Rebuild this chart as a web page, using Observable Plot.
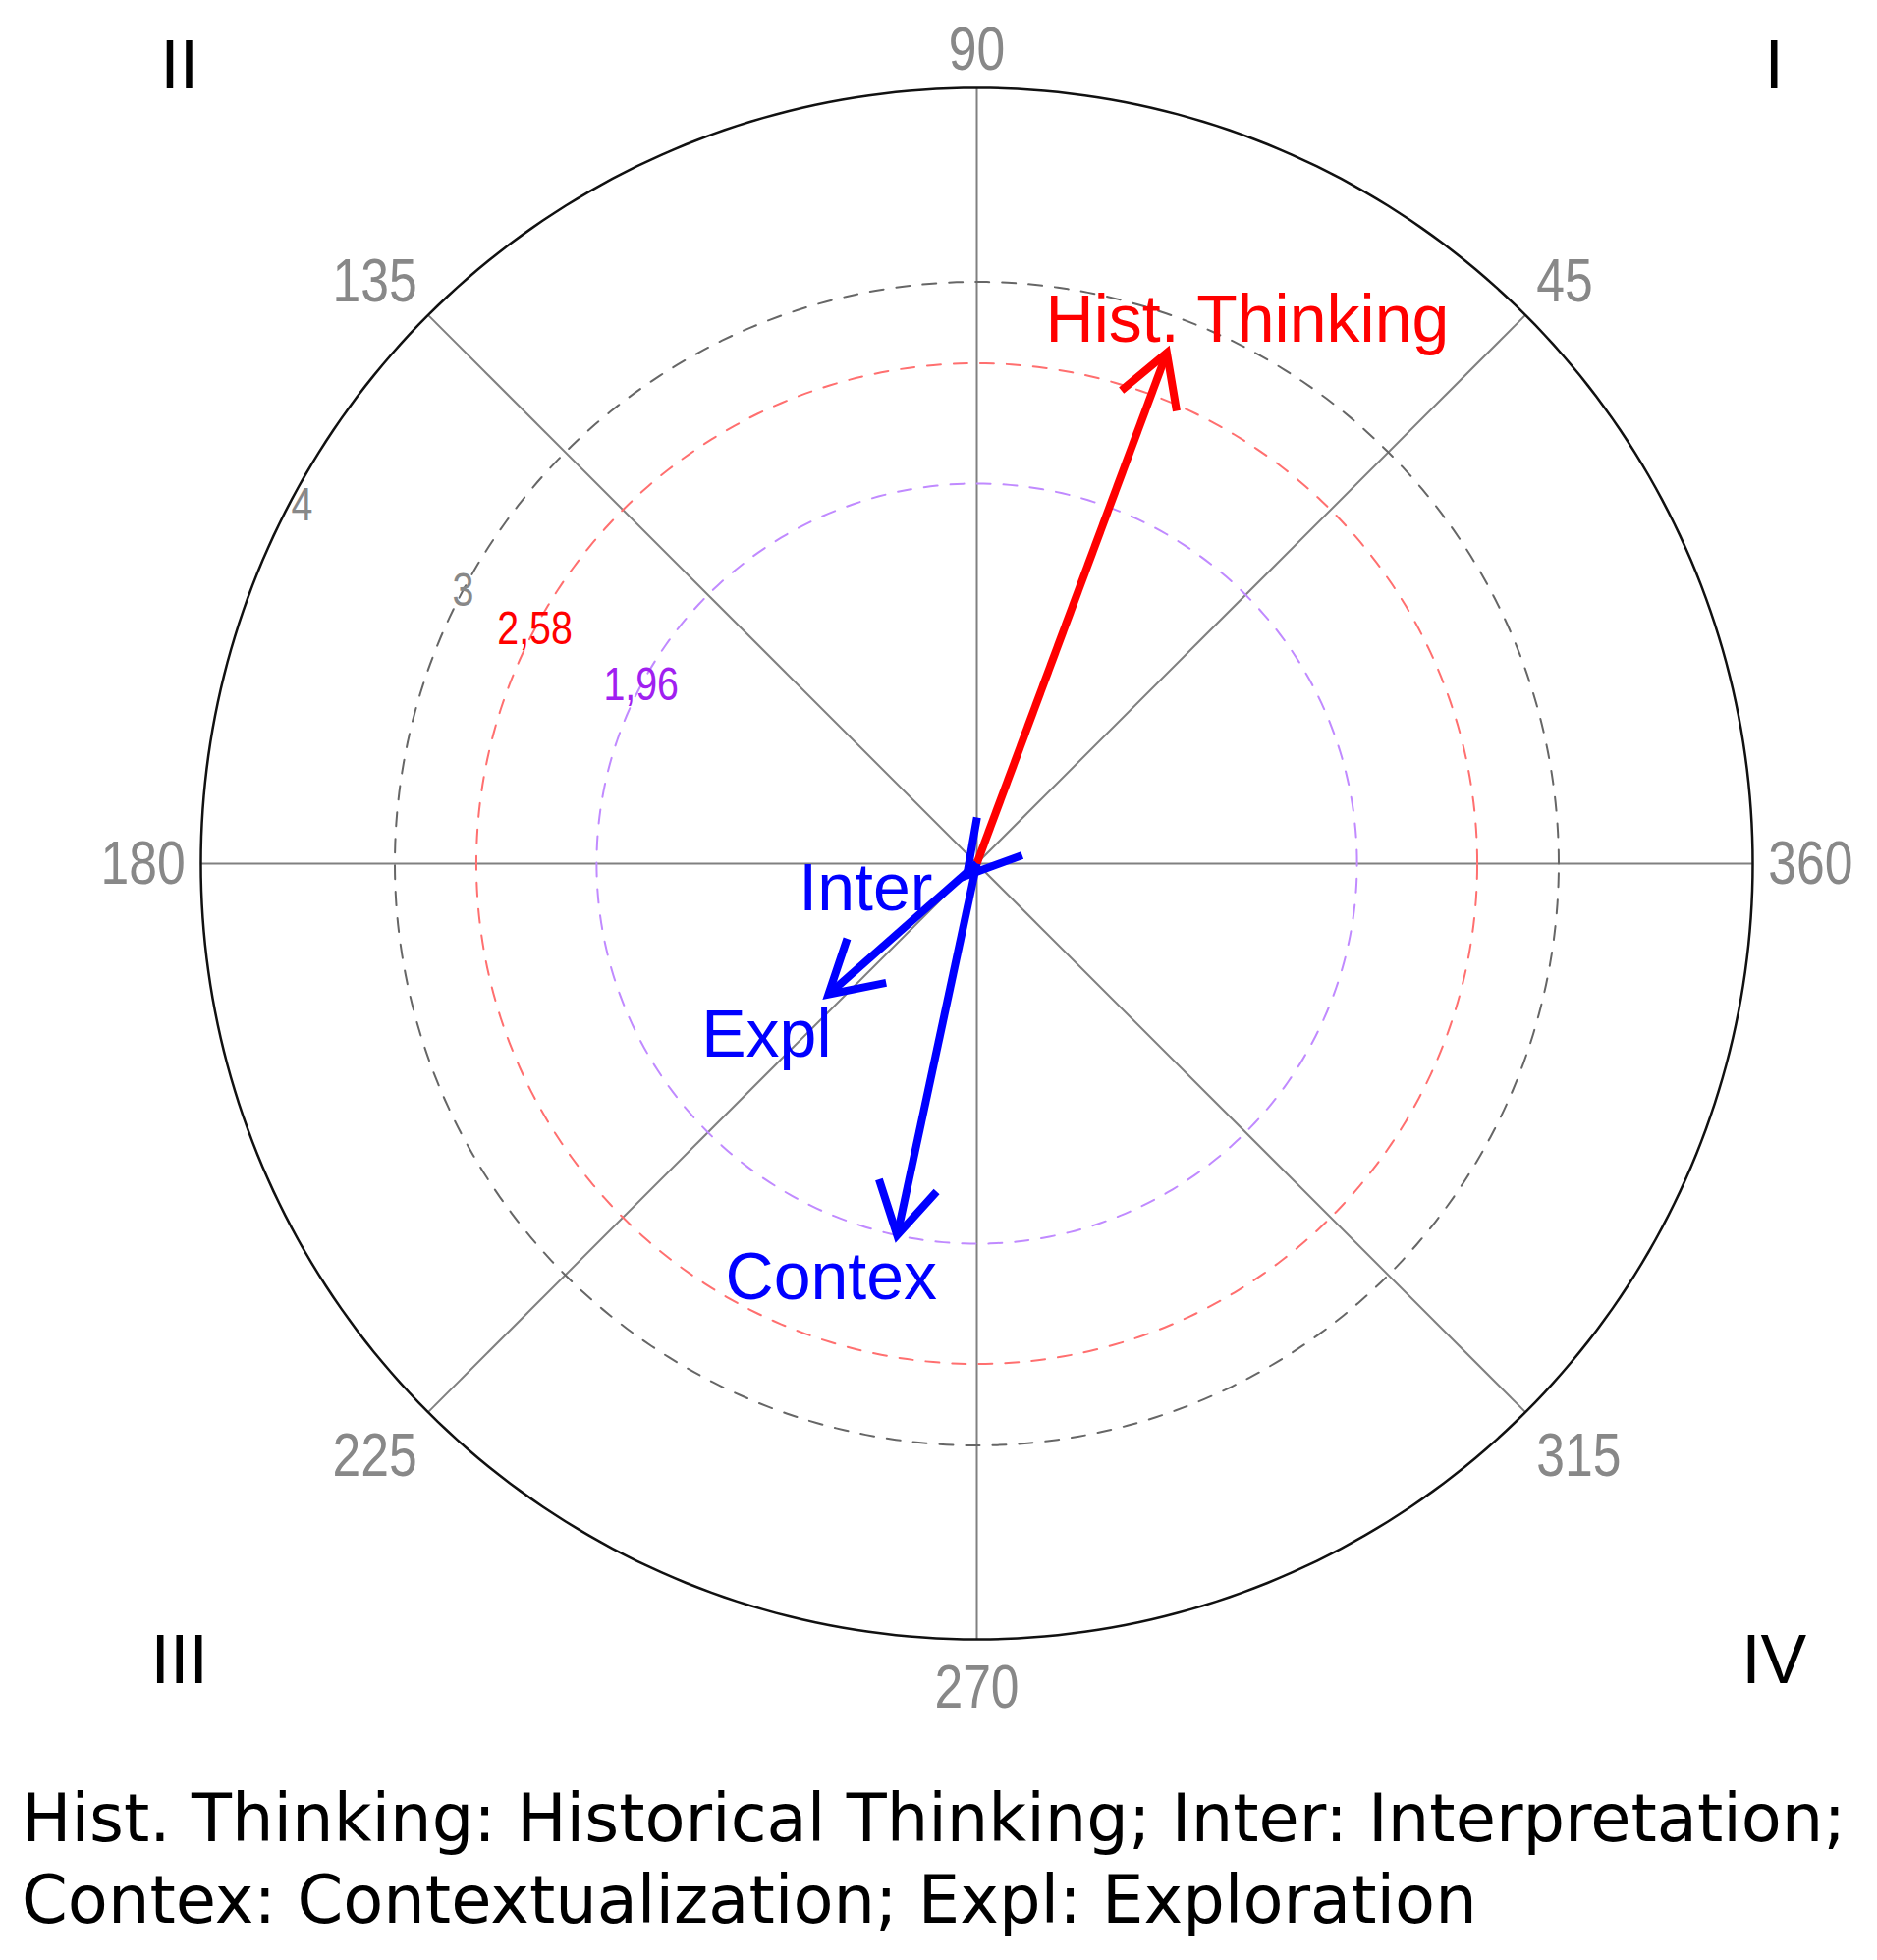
<!DOCTYPE html>
<html>
<head>
<meta charset="utf-8">
<script src="https://cdn.jsdelivr.net/npm/d3@7"></script>
<script src="https://cdn.jsdelivr.net/npm/@observablehq/plot@0.6"></script>
<style>
html, body { margin: 0; padding: 0; background: #fff; overflow: hidden; }
#caption { padding: 20px 0 0 22px; font-family: "DejaVu Sans", Verdana, sans-serif; font-size: 68px; line-height: 83px; color: #000; }
#caption div { white-space: nowrap; transform-origin: 0 0; width: max-content; }
</style>
</head>
<body>
<div id="chart"></div>
<div id="caption"></div>
<script>
// ---------------- data ----------------
const constructs   = ["Hist. Thinking", "Inter", "Contex", "Expl"];
const magnitudes   = [2.81, 0.08, 1.96, 1.02];          // vector length (z)
const directions   = [69.6, 230, 257.9, 221.4];         // degrees
const vectorType   = ["overall", "component", "component", "component"];

const outerRadius    = 4;
const criticalValues = [3, 2.58, 1.96];
const ringLabelValues = [4, 3, 2.58, 1.96];
const ringLabels      = ["4", "3", "2,58", "1,96"];
const ringLabelAngle  = 152;

const angleTicks   = [45, 90, 135, 180, 225, 270, 315, 360];
const quadrants    = ["I", "II", "III", "IV"];
const captionLines = [
  "Hist. Thinking: Historical Thinking; Inter: Interpretation;",
  "Contex: Contextualization; Expl: Exploration"
];

// ---------------- helpers ----------------
const rad = d => d * Math.PI / 180;
const polar = (r, deg) => [r * Math.cos(rad(deg)), r * Math.sin(rad(deg))];

function fontAvailable(name) {
  const c = document.createElement("canvas").getContext("2d");
  const s = "0123456789 Narrow";
  c.font = "100px monospace"; const a = c.measureText(s).width;
  c.font = `100px "${name}", monospace`; const b = c.measureText(s).width;
  return Math.abs(a - b) > 0.5;
}
const hasNarrow = fontAvailable("Liberation Sans Narrow");
const narrowFont = hasNarrow ? "'Liberation Sans Narrow', 'Arial Narrow', sans-serif" : "'Liberation Sans', Arial, sans-serif";
const sansFont = "'Liberation Sans', Arial, sans-serif";

const circlePoints = r => d3.range(0, 361, 1).map(a => { const [x, y] = polar(r, a); return {r, x, y}; });

const vectors = constructs.map((name, i) => {
  const [x, y] = polar(magnitudes[i], directions[i]);
  return {name, type: vectorType[i], m: magnitudes[i], a: directions[i], x, y};
});

const pxPerUnit = 790 / outerRadius;
const headLen = 60 / pxPerUnit, headAngle = 30;
const heads = vectors.flatMap(v => {
  const back = v.a + 180;
  const [ax, ay] = polar(headLen, back - headAngle);
  const [bx, by] = polar(headLen, back + headAngle);
  return [
    {name: v.name, type: v.type, x: v.x + ax, y: v.y + ay},
    {name: v.name, type: v.type, x: v.x, y: v.y},
    {name: v.name, type: v.type, x: v.x + bx, y: v.y + by}
  ];
});

const spokes = angleTicks.map(a => { const [x, y] = polar(outerRadius, a); return {a, x, y}; });

const tickLabelR = 4.08;
const tickLabels = angleTicks.map(a => {
  const [x, y] = polar(tickLabelR, a);
  const c = Math.cos(rad(a)), s = Math.sin(rad(a));
  return {a, x, y, text: String(a),
    ta: c > 0.1 ? "start" : c < -0.1 ? "end" : "middle",
    la: s > 0.1 ? "bottom" : s < -0.1 ? "top" : "middle"};
});
const tickDy = {top: 9, bottom: -3, middle: 0};

const quadPos = 4.11;
const quadData = quadrants.map((q, i) => {
  const a = 45 + 90 * i;
  return {q, x: Math.sign(Math.cos(rad(a))) * quadPos, y: Math.sign(Math.sin(rad(a))) * quadPos};
});

const ringText = ringLabels.map((t, i) => {
  const [x, y] = polar(ringLabelValues[i] * (i === 0 ? 0.985 : 1), ringLabelAngle);
  return {t, x, y, v: ringLabelValues[i]};
});

// styles
const ringStroke = {3: "#666666", 2.58: "#ff6f6f", 1.96: "#c08aff"};
const ringTextFill = {4: "#888888", 3: "#888888", 2.58: "#ff0000", 1.96: "#a020f0"};
const labelOffset = {
  "Hist. Thinking": [82, -11],
  "Inter": [-103, 35],
  "Contex": [-67, 65],
  "Expl": [-63, 63]
};

const marks = [
  Plot.link(spokes, {x1: () => 0, y1: () => 0, x2: "x", y2: "y", stroke: "#808080", strokeWidth: 2}),
  Plot.line(circlePoints(outerRadius), {x: "x", y: "y", stroke: "#111", strokeWidth: 2.5}),
  ...criticalValues.map(r => Plot.line(circlePoints(r), {x: "x", y: "y", stroke: ringStroke[r], strokeWidth: 2, strokeDasharray: "14,13"})),
  ...ringText.map(d => Plot.text([d], {x: "x", y: "y", text: "t", fill: ringTextFill[d.v], fontSize: 48, fontFamily: narrowFont, textAnchor: "middle", lineAnchor: "middle"})),
  ...tickLabels.map(d => Plot.text([d], {x: "x", y: "y", text: "text", fill: "#888888", fontSize: 63, fontFamily: narrowFont, textAnchor: d.ta, lineAnchor: d.la, dy: tickDy[d.la]})),
  Plot.text(quadData, {x: "x", y: "y", text: "q", fill: "#000", fontSize: 70, fontFamily: sansFont, textAnchor: "middle", lineAnchor: "middle"}),
  Plot.link(vectors, {x1: () => 0, y1: () => 0, x2: "x", y2: "y", stroke: "type", strokeWidth: 8, strokeLinecap: "butt"}),
  Plot.line(heads, {x: "x", y: "y", z: "name", stroke: "type", strokeWidth: 8, strokeLinejoin: "miter", strokeLinecap: "butt", strokeMiterlimit: 10}),
  ...vectors.map(v => Plot.text([v], {x: "x", y: "y", text: "name", fill: "type", fontSize: 68, fontFamily: sansFont, textAnchor: "middle", lineAnchor: "bottom", dx: labelOffset[v.name][0], dy: labelOffset[v.name][1]}))
];

const chart = Plot.plot({
  width: 1911,
  height: 1790,
  marginLeft: 204, marginRight: 127, marginTop: 89, marginBottom: 121,
  x: {domain: [-outerRadius, outerRadius], axis: null},
  y: {domain: [-outerRadius, outerRadius], axis: null},
  color: {domain: ["overall", "component"], range: ["#ff0000", "#0000ff"]},
  style: {background: "white", overflow: "visible"},
  marks
});
document.getElementById("chart").appendChild(chart);

// condense the numeric labels (Arial-Narrow look) when no narrow face is installed
if (!hasNarrow) {
  const narrowSet = new Set([...angleTicks.map(String), ...ringLabels]);
  chart.querySelectorAll("text").forEach(t => {
    if (!narrowSet.has(t.textContent)) return;
    const tr = t.getAttribute("transform");
    if (tr) t.setAttribute("transform", tr + " scale(0.82,1)");
    else {
      const x = parseFloat(t.getAttribute("x")) || 0;
      t.setAttribute("transform", `translate(${x},0) scale(0.82,1) translate(${-x},0)`);
    }
  });
}

// caption
const cap = document.getElementById("caption");
captionLines.forEach(t => { const d = document.createElement("div"); d.textContent = t; cap.appendChild(d); });
const w0 = cap.firstChild.getBoundingClientRect().width;
const sx = 1857 / w0;
cap.querySelectorAll("div").forEach(d => d.style.transform = `scaleX(${sx})`);
</script>
</body>
</html>
